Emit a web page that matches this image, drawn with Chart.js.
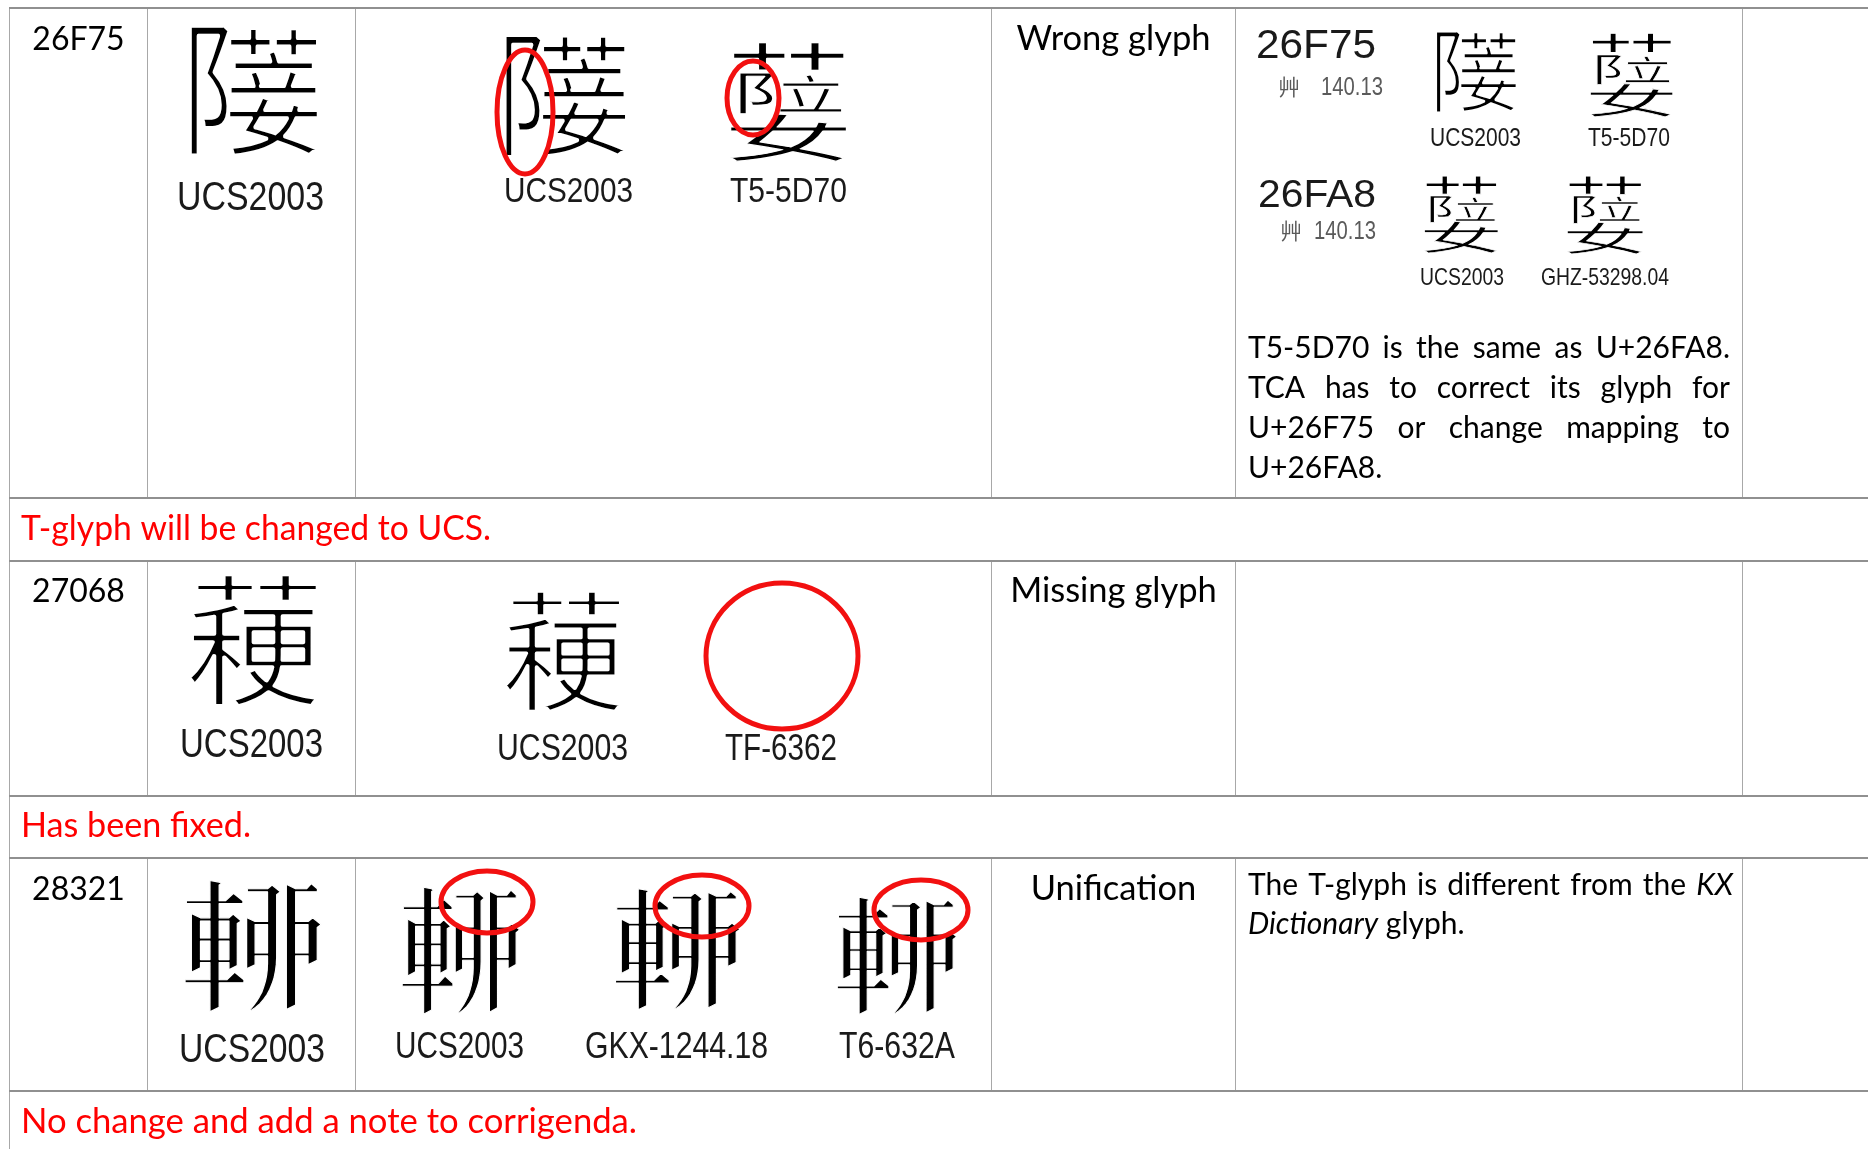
<!DOCTYPE html>
<html>
<head>
<meta charset="utf-8">
<script src="https://cdn.jsdelivr.net/npm/chart.js@4.4.0/dist/chart.umd.min.js"></script>
<style>
html, body { margin: 0; padding: 0; background: #fff; }
#wrap { width: 1868px; height: 1149px; position: relative; }
</style>
</head>
<body>
<div id="wrap"><canvas id="sheet"></canvas></div>
<script>
// ---- data (sheet units = page px of the 1868x1149 scan) ----
const colEdges = [9.5, 147.5, 355.5, 991.5, 1235.5, 1742.5];
const rowEdges = [8, 498, 561, 796, 858, 1091];
const sheetRight = 1868;
const sheetBottom = 1149;

const codePoints = ['26F75', '27068', '28321'];
const issueTypes = ['Wrong glyph', 'Missing glyph', 'Unification'];
const notes = ['T-glyph will be changed to UCS.', 'Has been fixed.', 'No change and add a note to corrigenda.'];

// glyph cells: which character each picture shows
const glyphChars = ['26F75', '26F75', '26FA8', '26F75', '26FA8', '26FA8', '26FA8',
                    '27068', '27068',
                    '28321', '28321', '28321', '28321'];
const glyphLabels = ['UCS2003', 'UCS2003', 'T5-5D70', 'UCS2003', 'T5-5D70', 'UCS2003', 'GHZ-53298.04',
                     'UCS2003', 'UCS2003', 'TF-6362',
                     'UCS2003', 'UCS2003', 'GKX-1244.18', 'T6-632A'];
const refCodes = ['26F75', '26FA8'];
const refRadical = ['艸 140.13', '艸 140.13'];

const comment1 = ['T5-5D70 is the same as U+26FA8.', 'TCA has to correct its glyph for',
                  'U+26F75 or change mapping to', 'U+26FA8.'];
const comment3 = [[['The T-glyph is different from the', false], ['KX', true]],
                  [['Dictionary', true], ['glyph.', false]]];

// ---- layout ----
const CAL = 'Lato, "Open Sans", sans-serif';
const ARI = '"Liberation Sans", Arial, sans-serif';
const CJK = '"Noto Sans CJK TC", "Noto Sans CJK SC", sans-serif';

const glyphBoxes = [[190, 24, 319, 156], [505, 33, 627, 157], [730, 42, 848, 162],
                    [1436, 30, 1517, 113], [1590, 33, 1674, 117], [1424, 176, 1499, 253], [1567, 176, 1644, 254],
                    [188, 575, 319, 707], [504, 592, 622, 712],
                    [185, 880, 322, 1012], [402, 887, 520, 1015], [615, 888, 740, 1010], [837, 897, 957, 1015]];
// [center x, baseline, font px, ink width]
const labelPos = [[250.5, 210, 40, 147], [568.5, 202, 35, 129], [788.5, 202, 35, 117],
                  [1475.5, 146, 25, 91], [1629, 146, 25, 82], [1462, 285, 24, 84], [1605, 285, 24, 128],
                  [251.5, 757, 40, 143], [562.5, 760, 37, 131], [781, 760, 37, 112],
                  [252, 1062, 41, 146], [459.5, 1058, 37, 129], [676.5, 1058, 37, 183], [897, 1058, 37, 116]];
const refPos = [[1256, 58, 40, 120], [1258, 207, 39, 118]];
const radPos = [[1278, 95, 25, 105], [1280, 239, 25, 96]];
const noteBase = [540, 837, 1133];
const noteWidth = [470, 230, 616];
const redRings = [[525, 112, 28, 62], [753, 98, 26, 37], [782, 656, 76, 73],
                  [487, 902, 46, 31], [702, 906, 47, 31], [921, 910, 47, 30]];

// stand-in shapes when the Ext-B codepoint has no font: [char, x0, y0, x1, y1] as box fractions
const glyphParts = {
  '26F75': [['阝', 0, 0, 0.31, 1], ['菨', 0.3, 0.02, 1, 1]],
  '26FA8': [['艹', 0.02, 0, 0.98, 0.24], ['阝', 0.08, 0.26, 0.38, 0.6], ['立', 0.42, 0.27, 0.95, 0.58], ['女', 0, 0.6, 1, 1]],
  '27068': [['艹', 0.06, 0, 1, 0.2], ['稉', 0, 0.21, 1, 1]],
  '28321': [['車', 0, 0.02, 0.44, 1], ['丣', 0.46, 0, 1, 0.97]]
};
// how much to thin each shape (white outline width, font units)
const thinBy = { '26F75': 3, '26FA8': 2, '27068': 3, '28321': 0.8 };

function hasGlyph(ch) {
  const c = document.createElement('canvas');
  c.width = c.height = 120;
  const g = c.getContext('2d');
  const paint = s => {
    g.clearRect(0, 0, 120, 120);
    g.font = '100px ' + CJK;
    g.fillText(s, 5, 100);
    return g.getImageData(0, 0, 120, 120).data;
  };
  const a = paint(ch), b = paint('\u{10FFFD}');
  for (let i = 3; i < a.length; i += 4) if (a[i] !== b[i]) return true;
  return false;
}

// draw a character so that its ink fills the box; thin it a bit like the Ming scans
function inkFit(ctx, ch, x0, y0, x1, y1, thin) {
  ctx.save();
  ctx.font = '100px ' + CJK;
  ctx.textAlign = 'left';
  ctx.textBaseline = 'alphabetic';
  const m = ctx.measureText(ch);
  const l = -m.actualBoundingBoxLeft, r = m.actualBoundingBoxRight;
  const t = -m.actualBoundingBoxAscent, b = m.actualBoundingBoxDescent;
  ctx.translate(x0, y0);
  ctx.scale((x1 - x0) / (r - l), (y1 - y0) / (b - t));
  if (!thin) {
    ctx.fillStyle = '#000';
    ctx.fillText(ch, -l, -t);
  } else {
    ctx.strokeStyle = '#fff';
    ctx.lineWidth = thin;
    ctx.lineJoin = 'round';
    ctx.strokeText(ch, -l, -t);
  }
  ctx.restore();
}

function narrowText(ctx, str, cx, base, size, width, align, family) {
  ctx.save();
  ctx.font = size + 'px ' + (family || ARI);
  ctx.textAlign = 'left';
  const w = ctx.measureText(str).width;
  const k = width / w;
  const left = align === 'left' ? cx : cx - width / 2;
  ctx.translate(left, base);
  ctx.scale(k, 1);
  ctx.fillText(str, 0, 0);
  ctx.restore();
}

function justified(ctx, lines, x0, x1, base, lead, size) {
  lines.forEach((runs, li) => {
    const words = [];
    runs.forEach(([t, it]) => t.split(' ').filter(Boolean).forEach(w => words.push({ w, it })));
    words.forEach(o => {
      ctx.font = (o.it ? 'italic ' : '') + size + 'px ' + CAL;
      o.width = ctx.measureText(o.w).width;
    });
    const sum = words.reduce((a, o) => a + o.width, 0);
    ctx.font = size + 'px ' + CAL;
    const last = li === lines.length - 1;
    const gap = last || words.length < 2 ? ctx.measureText(' ').width : (x1 - x0 - sum) / (words.length - 1);
    let x = x0;
    words.forEach(o => {
      ctx.font = (o.it ? 'italic ' : '') + size + 'px ' + CAL;
      ctx.fillText(o.w, x, base + li * lead);
      x += o.width + gap;
    });
  });
}

// table rules as line datasets
const rules = [];
const hLine = '#909090', vLine = '#a8a8a8';
rowEdges.forEach(y => rules.push({ data: [{ x: colEdges[0] - 0.5, y }, { x: sheetRight, y }], borderColor: hLine, borderWidth: 2 }));
rules.push({ data: [{ x: colEdges[0], y: rowEdges[0] }, { x: colEdges[0], y: sheetBottom }], borderColor: vLine, borderWidth: 1 });
for (let r = 0; r < rowEdges.length; r += 2) {
  colEdges.slice(1).forEach(x => rules.push({
    data: [{ x, y: rowEdges[r] }, { x, y: rowEdges[r + 1] }], borderColor: vLine, borderWidth: 1
  }));
}
rules.forEach(d => Object.assign(d, { showLine: true, pointRadius: 0, fill: false }));

const sheetText = {
  id: 'sheetText',
  afterDatasetsDraw(chart) {
    const { ctx, scales: { x, y } } = chart;
    const px = v => x.getPixelForValue(v);
    const py = v => y.getPixelForValue(v);
    ctx.save();
    ctx.fillStyle = '#000';
    ctx.textBaseline = 'alphabetic';

    // code point + issue columns
    ctx.textAlign = 'center';
    const cpBase = [50, 602, 900];
    codePoints.forEach((cp, i) => {
      ctx.font = '32px ' + CAL;
      ctx.fillText(cp, px((colEdges[0] + colEdges[1]) / 2), py(cpBase[i]));
      ctx.font = '34.5px ' + CAL;
      ctx.fillText(issueTypes[i], px((colEdges[3] + colEdges[4]) / 2), py(cpBase[i]));
    });

    // notes in red
    ctx.fillStyle = '#ff0000';
    notes.forEach((n, i) => narrowText(ctx, n, px(21), py(noteBase[i]), 34.7, noteWidth[i], 'left', CAL));

    // glyph pictures
    const real = {};
    Object.keys(glyphParts).forEach(k => { real[k] = hasGlyph(String.fromCodePoint(parseInt(k, 16))); });
    [false, true].forEach(thinPass => glyphChars.forEach((k, i) => {
      const [a, b, c, d] = glyphBoxes[i];
      const x0 = px(a), y0 = py(b), x1 = px(c), y1 = py(d);
      const thin = thinPass ? thinBy[k] : 0;
      if (thinPass && !thin) return;
      if (real[k]) {
        inkFit(ctx, String.fromCodePoint(parseInt(k, 16)), x0, y0, x1, y1, thin);
      } else {
        glyphParts[k].forEach(([ch, fa, fb, fc, fd]) =>
          inkFit(ctx, ch, x0 + (x1 - x0) * fa, y0 + (y1 - y0) * fb, x0 + (x1 - x0) * fc, y0 + (y1 - y0) * fd, thin));
      }
    }));

    // picture captions
    ctx.fillStyle = '#1a1a1a';
    glyphLabels.forEach((t, i) => {
      const [cx, base, size, w] = labelPos[i];
      narrowText(ctx, t, px(cx), py(base), size, w);
    });
    refCodes.forEach((t, i) => {
      const [lx, base, size, w] = refPos[i];
      narrowText(ctx, t, px(lx), py(base), size, w, 'left');
    });
    ctx.fillStyle = '#5a5a5a';
    refRadical.forEach((t, i) => {
      const [lx, base, size, w] = radPos[i];
      const [rad, num] = t.split(' ');
      ctx.save();
      ctx.font = (size - 3) + 'px ' + CJK;
      ctx.textAlign = 'left';
      ctx.fillText(rad, px(lx), py(base));
      ctx.restore();
      narrowText(ctx, num, px(lx + w - 62), py(base), size, 62, 'left');
    });

    // comments
    ctx.fillStyle = '#000';
    ctx.textAlign = 'left';
    justified(ctx, comment1.map(s => [[s, false]]), px(1248), px(1730), py(358), 40, 30);
    justified(ctx, comment3, px(1248), px(1733), py(895), 38.5, 30);

    // red rings
    ctx.strokeStyle = '#f21010';
    ctx.lineWidth = 5;
    redRings.forEach(([cx, cy, rx, ry]) => {
      ctx.beginPath();
      ctx.ellipse(px(cx), py(cy), rx, ry, 0, 0, Math.PI * 2);
      ctx.stroke();
    });
    ctx.restore();
  }
};

new Chart(document.getElementById('sheet'), {
  type: 'scatter',
  data: { datasets: rules },
  options: {
    responsive: true,
    maintainAspectRatio: false,
    animation: false,
    layout: { padding: 0 },
    plugins: { legend: { display: false }, tooltip: { enabled: false } },
    scales: {
      x: { type: 'linear', min: 0, max: sheetRight, display: false },
      y: { type: 'linear', min: 0, max: sheetBottom, reverse: true, display: false }
    }
  },
  plugins: [sheetText]
});
</script>
</body>
</html>
